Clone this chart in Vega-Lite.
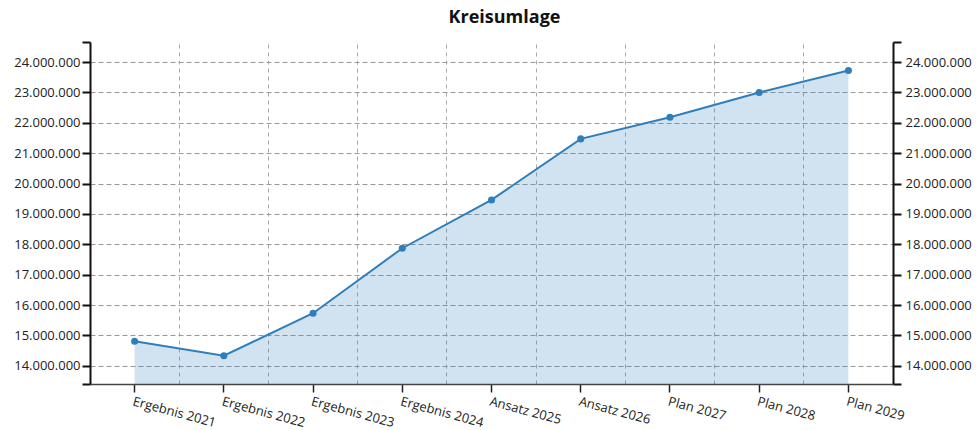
{
  "$schema": "https://vega.github.io/schema/vega-lite/v6.json",
  "width": 803,
  "height": 342,
  "autosize": "none",
  "padding": {"left": 90, "top": 42, "right": 83, "bottom": 46},
  "background": "white",
  "title": {"text": "Kreisumlage", "font": "Open Sans", "fontSize": 18, "fontWeight": "bold", "color": "#111111", "offset": 14, "dx": 13, "anchor": "middle"},
  "config": {
    "view": {"stroke": null},
    "locale": {"number": {"decimal": ",", "thousands": ".", "grouping": [3], "currency": ["", " €"]}},
    "axis": {"labelFont": "Open Sans", "labelFontSize": 13, "labelColor": "#222222", "domainColor": "#222222", "tickColor": "#222222"}
  },
  "data": {"values": [
    {"label": "Ergebnis 2021", "wert": 14810000},
    {"label": "Ergebnis 2022", "wert": 14330000},
    {"label": "Ergebnis 2023", "wert": 15730000},
    {"label": "Ergebnis 2024", "wert": 17870000},
    {"label": "Ansatz 2025", "wert": 19460000},
    {"label": "Ansatz 2026", "wert": 21470000},
    {"label": "Plan 2027", "wert": 22180000},
    {"label": "Plan 2028", "wert": 23000000},
    {"label": "Plan 2029", "wert": 23720000}
  ]},
  "layer": [
    {
      "mark": {"type": "area", "color": "#2e7ebc", "opacity": 0.22},
      "encoding": {
        "x": {"field": "label", "type": "nominal", "sort": null,
              "scale": {"type": "band", "paddingInner": 0, "paddingOuter": 0},
              "axis": {"orient": "top", "bandPosition": 0, "grid": true, "labels": false, "ticks": false, "domain": false, "title": null,
                       "gridColor": "#a8a8a8", "gridDash": [4, 4], "gridWidth": 1}},
        "y": {"field": "wert", "type": "quantitative",
              "scale": {"domain": [13400000, 24660000], "nice": false, "zero": false},
              "axis": {"orient": "left", "title": null, "format": ",d",
                       "values": [13400000, 14000000, 15000000, 16000000, 17000000, 18000000, 19000000, 20000000, 21000000, 22000000, 23000000, 24000000, 24660000],
                       "labelExpr": "datum.value < 13500000 || datum.value > 24500000 ? '' : datum.label",
                       "grid": true, "gridColor": "#999999", "gridDash": [5, 3], "gridWidth": 1,
                       "gridOpacity": {"condition": {"test": "datum.value < 13500000 || datum.value > 24500000", "value": 0}, "value": 1},
                       "domainWidth": 2, "domainColor": "#111111", "tickSize": 8, "tickWidth": 2, "tickColor": "#111111", "labelPadding": 2}},
        "y2": {"datum": 13400000}
      }
    },
    {
      "mark": {"type": "line", "color": "#2e7ebc", "strokeWidth": 2},
      "encoding": {
        "x": {"field": "label", "type": "nominal", "sort": null,
              "axis": {"orient": "bottom", "title": null, "labelAngle": 15, "labelAlign": "left", "labelBaseline": "top",
                       "labelPadding": 3, "tickSize": 8, "tickWidth": 1.5, "domainWidth": 1.5, "domainColor": "#444444", "grid": false}},
        "y": {"field": "wert", "type": "quantitative",
              "axis": {"orient": "right", "title": null, "format": ",d",
                       "values": [13400000, 14000000, 15000000, 16000000, 17000000, 18000000, 19000000, 20000000, 21000000, 22000000, 23000000, 24000000, 24660000],
                       "labelExpr": "datum.value < 13500000 || datum.value > 24500000 ? '' : datum.label",
                       "grid": false, "domainWidth": 2, "domainColor": "#111111", "tickSize": 8, "tickWidth": 2, "tickColor": "#111111", "labelPadding": 4}}
      }
    },
    {
      "mark": {"type": "point", "filled": true, "color": "#2e7ebc", "size": 50, "opacity": 1},
      "encoding": {
        "x": {"field": "label", "type": "nominal", "sort": null, "axis": null},
        "y": {"field": "wert", "type": "quantitative", "axis": null}
      }
    }
  ],
  "resolve": {"axis": {"x": "independent", "y": "independent"}}
}
